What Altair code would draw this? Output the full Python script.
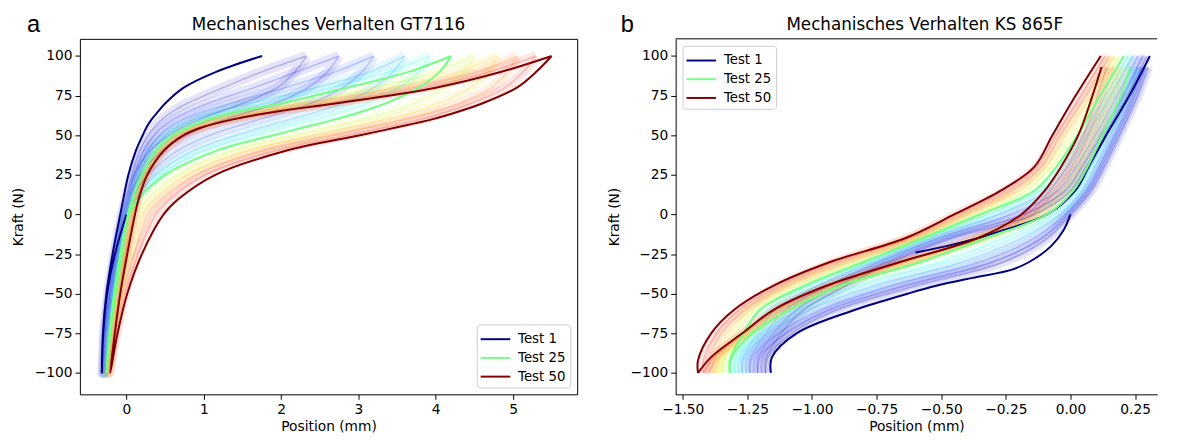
import altair as alt
import numpy as np
import pandas as pd

# ---------------- Panel a (GT7116) : force levels and positions ----------------
A_F = [-100, -75, -50, -25, 0, 10, 25, 40, 50, 55, 60, 65, 70, 80, 90, 100]

A_T01_START_F = [0, -25, -50, -75, -100]
A_T01_START_X = [0.0, -0.15, -0.25, -0.30, -0.32]

A_LOAD_T01 = [-0.32, -0.305, -0.26, -0.18, -0.08, -0.04, 0.025, 0.12, 0.21, 0.26, 0.325, 0.41, 0.50, 0.74, 1.16, 1.754]
A_LOAD_T03 = [-0.31, -0.29, -0.24, -0.16, -0.06, -0.01, 0.07, 0.17, 0.28, 0.36, 0.46, 0.60, 0.78, 1.25, 1.75, 2.33]
A_LOAD_T06 = [-0.30, -0.28, -0.22, -0.14, -0.04, 0.02, 0.10, 0.22, 0.36, 0.46, 0.60, 0.80, 1.05, 1.65, 2.20, 2.75]
A_LOAD_T10 = [-0.29, -0.26, -0.20, -0.12, -0.02, 0.04, 0.13, 0.27, 0.43, 0.56, 0.74, 1.00, 1.33, 2.05, 2.70, 3.20]
A_LOAD_T15 = [-0.28, -0.24, -0.18, -0.10, 0.00, 0.06, 0.16, 0.32, 0.50, 0.66, 0.88, 1.20, 1.60, 2.45, 3.15, 3.60]
A_LOAD_T20 = [-0.27, -0.23, -0.17, -0.09, 0.01, 0.07, 0.18, 0.35, 0.55, 0.73, 0.97, 1.32, 1.80, 2.65, 3.40, 3.92]
A_LOAD_T25 = [-0.26, -0.22, -0.16, -0.08, 0.02, 0.08, 0.20, 0.38, 0.60, 0.80, 1.05, 1.45, 2.00, 2.85, 3.65, 4.20]
A_LOAD_T30 = [-0.25, -0.20, -0.13, -0.05, 0.05, 0.10, 0.22, 0.41, 0.65, 0.86, 1.16, 1.62, 2.25, 3.20, 4.00, 4.50]
A_LOAD_T35 = [-0.24, -0.18, -0.11, -0.03, 0.07, 0.12, 0.24, 0.44, 0.69, 0.91, 1.25, 1.74, 2.42, 3.45, 4.30, 4.80]
A_LOAD_T40 = [-0.23, -0.17, -0.10, -0.02, 0.08, 0.13, 0.25, 0.46, 0.71, 0.94, 1.31, 1.83, 2.55, 3.70, 4.55, 5.05]
A_LOAD_T45 = [-0.22, -0.16, -0.09, -0.01, 0.10, 0.15, 0.26, 0.47, 0.73, 0.96, 1.35, 1.90, 2.63, 3.85, 4.70, 5.30]
A_LOAD_T50 = [-0.21, -0.15, -0.08, 0.01, 0.11, 0.16, 0.27, 0.48, 0.74, 0.98, 1.38, 1.95, 2.70, 4.00, 4.85, 5.50]

A_UNL_T03 = [-0.31, -0.28, -0.22, -0.14, -0.05, 0.00, 0.10, 0.30, 0.55, 0.72, 0.95, 1.22, 1.50, 1.95, 2.18, 2.33]
A_UNL_T06 = [-0.30, -0.27, -0.20, -0.12, -0.03, 0.03, 0.18, 0.45, 0.78, 1.00, 1.28, 1.60, 1.92, 2.35, 2.60, 2.75]
A_UNL_T10 = [-0.29, -0.25, -0.18, -0.10, -0.01, 0.07, 0.28, 0.65, 1.08, 1.38, 1.72, 2.06, 2.38, 2.80, 3.05, 3.20]
A_UNL_T15 = [-0.28, -0.23, -0.16, -0.08, 0.01, 0.11, 0.38, 0.85, 1.42, 1.75, 2.12, 2.48, 2.80, 3.20, 3.45, 3.60]
A_UNL_T20 = [-0.27, -0.22, -0.15, -0.07, 0.02, 0.14, 0.45, 1.00, 1.66, 2.04, 2.44, 2.80, 3.10, 3.52, 3.78, 3.92]
A_UNL_T25 = [-0.26, -0.21, -0.14, -0.06, 0.03, 0.16, 0.50, 1.15, 1.90, 2.30, 2.70, 3.05, 3.35, 3.78, 4.05, 4.20]
A_UNL_T30 = [-0.25, -0.19, -0.11, -0.01, 0.12, 0.26, 0.65, 1.35, 2.17, 2.60, 3.04, 3.42, 3.72, 4.12, 4.37, 4.50]
A_UNL_T35 = [-0.24, -0.17, -0.08, 0.04, 0.20, 0.36, 0.78, 1.55, 2.45, 2.90, 3.35, 3.74, 4.03, 4.45, 4.68, 4.80]
A_UNL_T40 = [-0.23, -0.15, -0.05, 0.10, 0.28, 0.46, 0.90, 1.75, 2.68, 3.15, 3.62, 4.00, 4.30, 4.72, 4.93, 5.05]
A_UNL_T45 = [-0.22, -0.13, -0.02, 0.15, 0.38, 0.57, 1.02, 1.90, 2.86, 3.34, 3.80, 4.16, 4.46, 4.90, 5.13, 5.30]
A_UNL_T50 = [-0.21, -0.115, 0.01, 0.20, 0.48, 0.68, 1.15, 2.05, 3.02, 3.50, 3.95, 4.30, 4.60, 5.05, 5.30, 5.50]

# ---------------- Panel b (KS 865F) ----------------
B_UP_F = [-100, -92, -75, -60, -45, -30, -15, 0, 15, 30, 50, 75, 100]
B_DN_F = [93, 75, 50, 30, 15, 0, -15, -30, -45, -60, -75, -90, -100]

B_DN_T01_F = [0, -10, -20, -30, -35, -40, -45, -50, -60, -75, -90, -100]
B_DN_T01 = [0.0, -0.027, -0.075, -0.16, -0.23, -0.38, -0.52, -0.63, -0.83, -1.06, -1.155, -1.159]
B_UP_T01_F = [-24, -20, -15, -10, 0, 15, 30, 50, 75, 100]
B_UP_T01 = [-0.60, -0.48, -0.36, -0.26, -0.09, 0.018, 0.07, 0.138, 0.228, 0.307]

B_UP_T03 = [-1.18, -1.18, -1.12, -1.03, -0.87, -0.69, -0.46, -0.14, 0.00, 0.06, 0.13, 0.22, 0.295]
B_UP_T06 = [-1.21, -1.21, -1.15, -1.06, -0.90, -0.71, -0.48, -0.18, -0.02, 0.045, 0.12, 0.205, 0.28]
B_UP_T10 = [-1.24, -1.24, -1.18, -1.10, -0.94, -0.74, -0.51, -0.23, -0.05, 0.02, 0.095, 0.18, 0.26]
B_UP_T15 = [-1.27, -1.27, -1.21, -1.14, -0.98, -0.76, -0.54, -0.28, -0.09, -0.01, 0.065, 0.155, 0.24]
B_UP_T20 = [-1.30, -1.30, -1.24, -1.17, -1.01, -0.78, -0.56, -0.32, -0.12, -0.035, 0.045, 0.135, 0.222]
B_UP_T25 = [-1.318, -1.318, -1.265, -1.20, -1.03, -0.80, -0.57, -0.35, -0.14, -0.055, 0.027, 0.115, 0.206]
B_UP_T30 = [-1.345, -1.345, -1.29, -1.22, -1.06, -0.83, -0.59, -0.37, -0.17, -0.075, 0.01, 0.10, 0.188]
B_UP_T35 = [-1.37, -1.37, -1.32, -1.24, -1.09, -0.86, -0.61, -0.40, -0.20, -0.095, -0.02, 0.08, 0.17]
B_UP_T40 = [-1.395, -1.395, -1.35, -1.26, -1.11, -0.89, -0.62, -0.42, -0.23, -0.115, -0.04, 0.06, 0.152]
B_UP_T45 = [-1.42, -1.42, -1.37, -1.28, -1.13, -0.91, -0.63, -0.44, -0.25, -0.13, -0.055, 0.04, 0.134]
B_UP_T50 = [-1.441, -1.441, -1.39, -1.30, -1.15, -0.93, -0.64, -0.45, -0.27, -0.14, -0.07, 0.02, 0.117]

B_DN_T03 = [0.30, 0.26, 0.19, 0.13, 0.08, 0.00, -0.09, -0.26, -0.60, -0.90, -1.08, -1.17, -1.18]
B_DN_T06 = [0.29, 0.25, 0.18, 0.12, 0.07, -0.01, -0.11, -0.30, -0.64, -0.93, -1.10, -1.20, -1.21]
B_DN_T10 = [0.275, 0.24, 0.17, 0.11, 0.06, -0.02, -0.14, -0.35, -0.69, -0.96, -1.13, -1.23, -1.24]
B_DN_T15 = [0.26, 0.225, 0.155, 0.095, 0.045, -0.04, -0.19, -0.42, -0.76, -1.01, -1.17, -1.26, -1.27]
B_DN_T20 = [0.245, 0.21, 0.14, 0.08, 0.028, -0.065, -0.26, -0.50, -0.83, -1.05, -1.20, -1.29, -1.30]
B_DN_T25 = [0.23, 0.195, 0.124, 0.066, 0.011, -0.09, -0.33, -0.58, -0.89, -1.085, -1.23, -1.31, -1.318]
B_DN_T30 = [0.21, 0.175, 0.11, 0.05, -0.005, -0.11, -0.34, -0.61, -0.90, -1.10, -1.24, -1.335, -1.345]
B_DN_T35 = [0.19, 0.155, 0.09, 0.03, -0.03, -0.13, -0.35, -0.63, -0.91, -1.115, -1.25, -1.355, -1.37]
B_DN_T40 = [0.165, 0.13, 0.07, 0.01, -0.055, -0.15, -0.355, -0.645, -0.925, -1.13, -1.26, -1.37, -1.395]
B_DN_T45 = [0.14, 0.105, 0.05, -0.015, -0.08, -0.17, -0.36, -0.655, -0.935, -1.14, -1.265, -1.38, -1.42]
B_DN_T50 = [0.12, 0.085, 0.03, -0.037, -0.10, -0.19, -0.36, -0.66, -0.945, -1.147, -1.27, -1.39, -1.441]

Y_TICKS = [-100, -75, -50, -25, 0, 25, 50, 75, 100]
A_X_TICKS = [0, 1, 2, 3, 4, 5]
B_X_TICKS = [-1.5, -1.25, -1.0, -0.75, -0.5, -0.25, 0.0, 0.25]
LABELS = ["Test 1", "Test 25", "Test 50"]
TITLES = ["Mechanisches Verhalten GT7116", "Mechanisches Verhalten KS 865F"]
LETTERS = ["a", "b"]
N_TESTS = 50


def jet_hex(t):
    r = np.interp(t, [0, 0.35, 0.66, 0.89, 1], [0, 0, 1, 1, 0.5])
    g = np.interp(t, [0, 0.125, 0.375, 0.64, 0.91, 1], [0, 0, 1, 1, 0, 0])
    b = np.interp(t, [0, 0.11, 0.34, 0.65, 1], [0.5, 1, 1, 0, 0])
    return "#%02x%02x%02x" % tuple(int(round(v * 255)) for v in (r, g, b))


def tcol(test):
    return jet_hex((test - 1) / (N_TESTS - 1))


def add_path(rows, path, xs, fs, **extra):
    for i, (x, f) in enumerate(zip(xs, fs)):
        r = {"x": x, "F": f, "path": path, "seq": i}
        r.update(extra)
        rows.append(r)


# ---- panel a frames
a_faint = []
for t, unl, load in [(3, A_UNL_T03, A_LOAD_T03), (6, A_UNL_T06, A_LOAD_T06), (10, A_UNL_T10, A_LOAD_T10),
                     (15, A_UNL_T15, A_LOAD_T15), (20, A_UNL_T20, A_LOAD_T20), (30, A_UNL_T30, A_LOAD_T30),
                     (35, A_UNL_T35, A_LOAD_T35), (40, A_UNL_T40, A_LOAD_T40), (45, A_UNL_T45, A_LOAD_T45)]:
    add_path(a_faint, "t%d" % t, unl[::-1] + load[1:], A_F[::-1] + A_F[1:], col=tcol(t))
a_faint = pd.DataFrame(a_faint)

a_b1 = []
add_path(a_b1, "t1", A_T01_START_X + A_LOAD_T01[1:], A_T01_START_F + A_F[1:], label="Test 1")
a_b25 = []
add_path(a_b25, "t25", A_UNL_T25[::-1] + A_LOAD_T25[1:], A_F[::-1] + A_F[1:], label="Test 25")
a_b50 = []
add_path(a_b50, "t50", A_UNL_T50[::-1] + A_LOAD_T50[1:], A_F[::-1] + A_F[1:], label="Test 50")
a_bold = [pd.DataFrame(a_b1), pd.DataFrame(a_b25), pd.DataFrame(a_b50)]

# ---- panel b frames (descending and ascending branches as separate paths)
b_faint = []
for t, dn, up in [(3, B_DN_T03, B_UP_T03), (6, B_DN_T06, B_UP_T06), (10, B_DN_T10, B_UP_T10),
                  (15, B_DN_T15, B_UP_T15), (20, B_DN_T20, B_UP_T20), (30, B_DN_T30, B_UP_T30),
                  (35, B_DN_T35, B_UP_T35), (40, B_DN_T40, B_UP_T40), (45, B_DN_T45, B_UP_T45)]:
    add_path(b_faint, "t%dd" % t, dn, B_DN_F, col=tcol(t))
    add_path(b_faint, "t%du" % t, up, B_UP_F, col=tcol(t))
b_faint = pd.DataFrame(b_faint)

b_b1 = []
add_path(b_b1, "t1d", B_DN_T01, B_DN_T01_F, label="Test 1")
add_path(b_b1, "t1u", B_UP_T01, B_UP_T01_F, label="Test 1")
b_b25 = []
add_path(b_b25, "t25d", B_DN_T25, B_DN_F, label="Test 25")
add_path(b_b25, "t25u", B_UP_T25, B_UP_F, label="Test 25")
b_b50 = []
add_path(b_b50, "t50d", B_DN_T50, B_DN_F, label="Test 50")
add_path(b_b50, "t50u", B_UP_T50, B_UP_F, label="Test 50")
b_bold = [pd.DataFrame(b_b1), pd.DataFrame(b_b25), pd.DataFrame(b_b50)]

COLORS = [tcol(1), tcol(25), tcol(50)]
FONT = "DejaVu Sans"
H = 361


def panel(faint_df, bold_dfs, xdom, xticks, xfmt, width, title, title_x, letter, letter_x,
          legend_orient, framed):
    x_enc = alt.X("x:Q", scale=alt.Scale(domain=xdom, nice=False, zero=False),
                  axis=alt.Axis(values=xticks, format=xfmt, title="Position (mm)", domain=not framed))
    y_enc = alt.Y("F:Q", scale=alt.Scale(domain=[-113.5, 110.8], nice=False, zero=False),
                  axis=alt.Axis(values=Y_TICKS, format="d", title="Kraft (N)", titlePadding=9,
                                domain=not framed))
    wash = alt.Chart(faint_df).mark_line(strokeWidth=10, opacity=0.1, interpolate="catmull-rom").encode(
        x=x_enc, y=y_enc, stroke=alt.Stroke("col:N", scale=None), detail="path:N", order="seq:Q")
    thin = alt.Chart(faint_df).mark_line(strokeWidth=1.5, opacity=0.22, interpolate="catmull-rom").encode(
        x=x_enc, y=y_enc, stroke=alt.Stroke("col:N", scale=None), detail="path:N", order="seq:Q")
    cscale = alt.Scale(domain=LABELS, range=COLORS)
    legend = alt.Legend(title=None, orient=legend_orient, offset=7, symbolType="M-1.5,0L1.5,0",
                        symbolSize=400, symbolStrokeWidth=2, symbolOffset=4, labelOffset=12,
                        labelFont=FONT, labelFontSize=13.5, labelColor="black", fillColor="white",
                        strokeColor="#cccccc", padding=4, cornerRadius=3, rowPadding=1)
    layers = [wash, thin]
    for d in bold_dfs:
        layers.append(alt.Chart(d).mark_line(strokeWidth=2, interpolate="catmull-rom").encode(
            x=x_enc, y=y_enc, color=alt.Color("label:N", scale=cscale, legend=legend),
            detail="path:N", order="seq:Q"))
    layers.append(alt.Chart(alt.Data(values=[{"t": letter}])).mark_text(
        fontSize=24, font="Liberation Sans", align="center", baseline="middle", color="black").encode(
        x=alt.value(letter_x), y=alt.value(-14), text="t:N"))
    layers.append(alt.Chart(alt.Data(values=[{"t": title}])).mark_text(
        fontSize=17, font=FONT, align="center", baseline="middle", color="black").encode(
        x=alt.value(title_x), y=alt.value(-14), text="t:N"))
    if not framed:
        layers.append(alt.Chart(alt.Data(values=[{"a": 0}])).mark_rule(color="black", strokeWidth=1).encode(
            x=alt.value(0), x2=alt.value(width), y=alt.value(0)))
    view = alt.ViewBackground(stroke="black", strokeWidth=1) if framed else alt.ViewBackground(stroke="transparent")
    return alt.layer(*layers).properties(width=width, height=H, view=view)


pa = panel(a_faint, a_bold, [-0.6025, 5.83], A_X_TICKS, "d", 505,
           TITLES[0], 252.5, LETTERS[0], -47, "bottom-right", True)
pb = panel(b_faint, b_bold, [-1.5275, 0.3353], B_X_TICKS, ".2f", 489,
           TITLES[1], 253, LETTERS[1], -49, "top-left", False)

chart = alt.hconcat(pa, pb, spacing=29).resolve_scale(
    x="independent", y="independent", color="independent").resolve_legend(color="independent").properties(
    padding={"left": 3, "top": 1, "right": 0, "bottom": 0}, background="white"
).configure(font=FONT).configure_axis(
    labelFont=FONT, labelFontSize=14, labelColor="black", tickColor="black", tickSize=5, tickWidth=1,
    domainColor="black", domainWidth=1, titleFont=FONT, titleFontSize=14, titleFontWeight="normal",
    titleColor="black", grid=False, labelPadding=3, titlePadding=4)

chart.save("out.html", embed_options={"renderer": "svg", "actions": False})
